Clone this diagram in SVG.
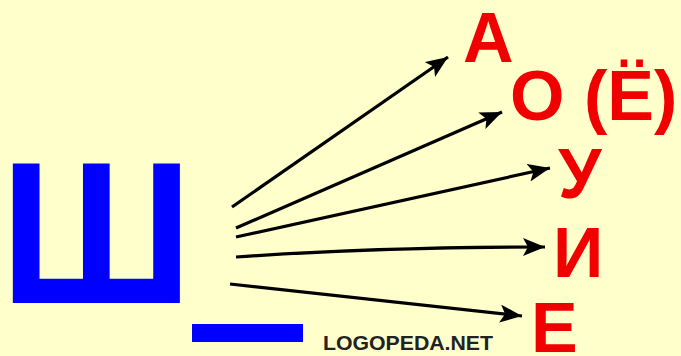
<svg xmlns="http://www.w3.org/2000/svg" width="681" height="356" viewBox="0 0 681 356">
  <style>
    .vowel { font-family: "Liberation Sans", Arial, sans-serif; font-weight: bold; font-size: 70px; fill: #F00000; }
    .conn { fill: none; stroke: #000; stroke-width: 3.2; marker-end: url(#arr); }
  </style>
  <defs>
    <marker id="arr" markerUnits="userSpaceOnUse" markerWidth="24" markerHeight="18" refX="22" refY="9" orient="auto" viewBox="0 0 24 18">
      <path d="M0,0 L22,9 L0,18 L5,9 Z" fill="#000"/>
    </marker>
  </defs>
  <rect x="0" y="0" width="681" height="356" fill="#FFFFCC"/>
  <g id="consonant">
    <text x="0" y="303" transform="scale(0.95,1)" font-family="Liberation Sans, Arial, sans-serif" font-weight="bold" font-size="202" fill="#0000FF">Ш</text>
    <rect x="192" y="324" width="111" height="18" fill="#0000FF"/>
  </g>
  <g id="connectors">
    <path class="conn" d="M232,207 L448,57"/>
    <path class="conn" d="M236,228 L502,112"/>
    <path class="conn" d="M236,237 L550,168"/>
    <path class="conn" d="M236,257 Q380,247 545,247"/>
    <path class="conn" d="M230,284 Q380,300 522,316"/>
  </g>
  <g id="vowel-a"><text class="vowel" x="463" y="62">А</text></g>
  <g id="vowel-o"><text class="vowel" x="510" y="120">О (Ё)</text></g>
  <g id="vowel-u"><text class="vowel" x="558" y="198">У</text></g>
  <g id="vowel-i"><text class="vowel" x="553" y="277">И</text></g>
  <g id="vowel-e"><text class="vowel" x="531" y="352">Е</text></g>
  <g id="watermark">
    <text x="323" y="350" font-family="Liberation Sans, Arial, sans-serif" font-weight="bold" font-size="20" fill="#222" textLength="170" lengthAdjust="spacingAndGlyphs">LOGOPEDA.NET</text>
  </g>
</svg>
